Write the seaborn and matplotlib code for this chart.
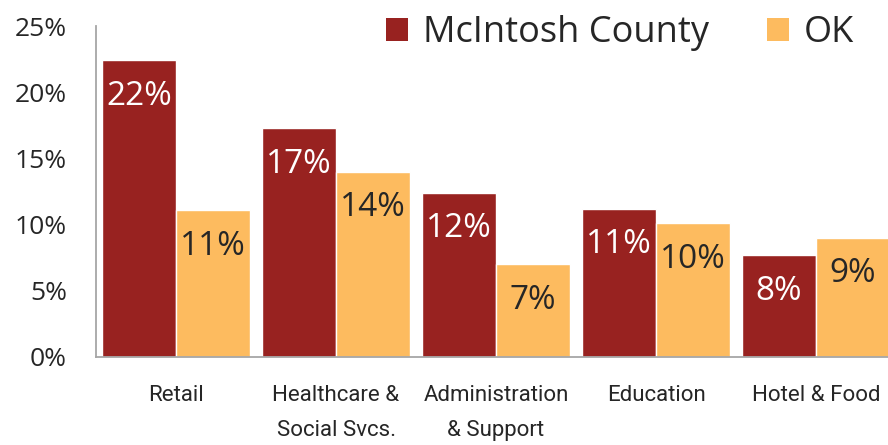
import matplotlib
matplotlib.use("Agg")
import matplotlib.pyplot as plt
import seaborn as sns
import pandas as pd
from matplotlib.patches import Patch

categories = ["Retail", "Healthcare &\nSocial Svcs.", "Administration\n& Support", "Education", "Hotel & Food"]
county = [22.4, 17.3, 12.4, 11.2, 7.7]
ok = [11.1, 14.0, 7.0, 10.1, 9.0]
series = ["McIntosh County", "OK"]
yticks = [0, 5, 10, 15, 20, 25]
ytick_labels = ["0%", "5%", "10%", "15%", "20%", "25%"]

RED = "#982220"
ORANGE = "#FDBB5F"
TXT = "#262626"

df = pd.DataFrame({
    "category": categories * 2,
    "value": county + ok,
    "series": [series[0]] * len(categories) + [series[1]] * len(categories),
})

sns.set_theme(style="white")
plt.rcParams["font.family"] = ["Open Sans", "DejaVu Sans"]

fig = plt.figure(figsize=(8.88, 4.45), dpi=100)
ax = fig.add_axes([96 / 888, 88 / 445, 792 / 888, 331 / 445])

sns.barplot(data=df, x="category", y="value", hue="series", order=categories,
            hue_order=series, palette=[RED, ORANGE], width=0.925, gap=0,
            saturation=1, ax=ax, legend=False)

ax.set_xlim(-0.5, 4.45)
ax.set_ylim(0, 25)
ax.set_yticks(yticks)
ax.set_yticklabels(ytick_labels, fontsize=19, color=TXT)
ax.tick_params(axis="y", length=0, pad=21)
ax.tick_params(axis="x", length=0, pad=20)
ax.set_xticks(range(len(categories)))
ax.set_xticklabels(categories, fontsize=16, color=TXT,
                   family=["Roboto", "DejaVu Sans"],
                   linespacing=1.9, va="top")
ax.set_xlabel("")
ax.set_ylabel("")

for s in ["top", "right"]:
    ax.spines[s].set_visible(False)
for s in ["left", "bottom"]:
    ax.spines[s].set_color("#A6A6A6")
    ax.spines[s].set_linewidth(1.3)

label_colors = ["white", TXT]
for cont, col in zip(ax.containers, label_colors):
    for bar in cont:
        h = bar.get_height()
        ax.annotate(f"{h:.0f}%", xy=(bar.get_x() + bar.get_width() / 2, h),
                    xytext=(0, -26), textcoords="offset points",
                    ha="center", va="center", fontsize=24, color=col)

handles = [Patch(facecolor=RED, edgecolor="none"), Patch(facecolor=ORANGE, edgecolor="none")]
fig.legend(handles, series, loc="center left", bbox_to_anchor=(368 / 888, 1 - 33 / 445),
           ncol=2, frameon=False, fontsize=26, borderpad=0, handlelength=0.62,
           handleheight=0.62, handletextpad=0.4, columnspacing=1.6,
           labelcolor=TXT)

fig.savefig("out.png", dpi=100)
